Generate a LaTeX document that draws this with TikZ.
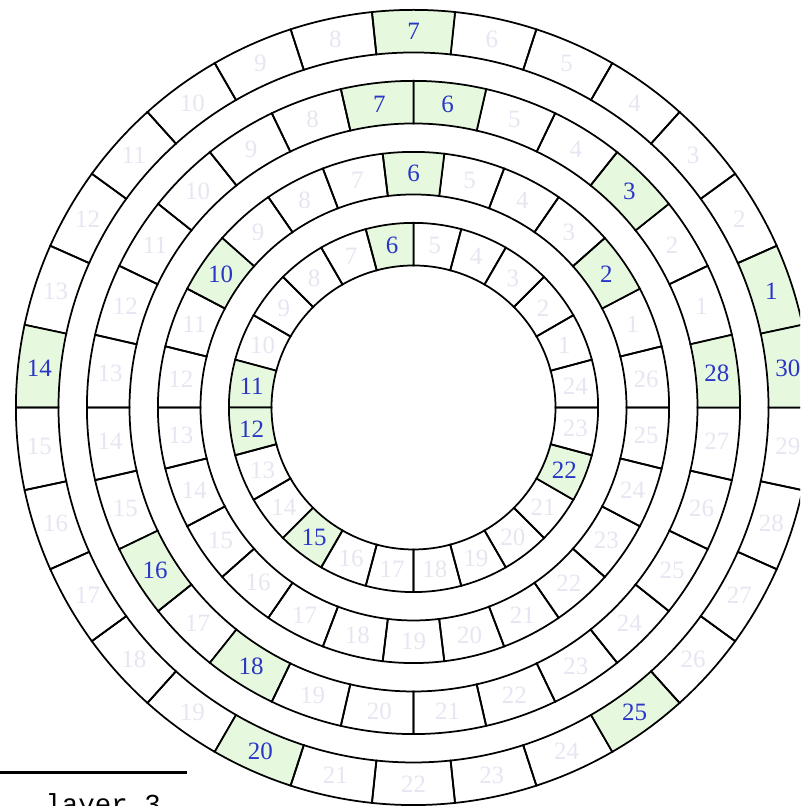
\documentclass[tikz,border=0pt]{standalone}
\usepackage{fontspec}
\setmainfont{Liberation Serif}
\newfontfamily\layerfont{Liberation Mono}
\definecolor{cellgreen}{HTML}{E6F9DF}
\definecolor{hotnum}{HTML}{2A36C6}
\definecolor{coldnum}{HTML}{E6E6F2}

\begin{document}
\begin{tikzpicture}[x=1cm,y=1cm]
\tikzset{cell/.style={draw=black, line width=0.7pt},
         num/.style={inner sep=0pt, font=\fontsize{10}{12}\selectfont}}
\useasboundingbox (-5.824,-5.613) rectangle (5.444,5.739);
\clip (-5.824,-5.613) rectangle (5.444,5.739);

% rings: number of cells / inner radius / green cells
\foreach \n/\r/\hot in {24/2/{6,11,12,15,22},26/3/{2,6,10},28/4/{3,6,7,16,18,28},30/5/{1,7,14,20,25,30}}{
  \foreach \k in {1,...,\n}{
    \gdef\cellfill{none}\gdef\numcol{coldnum}
    \foreach \h in \hot {\ifnum\h=\k\relax \gdef\cellfill{cellgreen}\gdef\numcol{hotnum}\fi}
    \pgfmathsetmacro{\a}{\k*360/\n}
    \pgfmathsetmacro{\b}{(\k+1)*360/\n}
    \draw[cell, fill=\cellfill] (\a:\r) -- (\a:\r+0.6) arc[start angle=\a, end angle=\b, radius=\r+0.6]
      -- (\b:\r) arc[start angle=\b, end angle=\a, radius=\r] -- cycle;
    \node[num, text=\numcol] (c\n-\k) at ({(\a+\b)/2}:\r+0.3) {\k};
  }
}

\coordinate (L1) at (-5.9,-5.148);
\coordinate (L2) at (-3.19,-5.148);
\draw[line width=1.2pt] (L1) -- (L2);
\node[anchor=base west, inner sep=0pt, font=\layerfont\fontsize{11}{13}\selectfont] (layer) at (-5.19,-5.725) {layer 3};
\end{tikzpicture}
\end{document}
